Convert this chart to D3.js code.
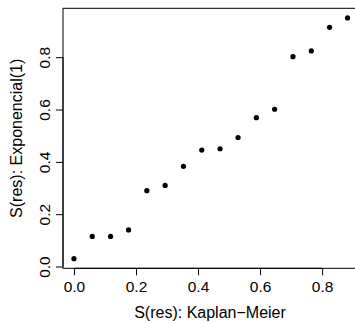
<!DOCTYPE html>
<html>
<head>
<meta charset="utf-8">
<script src="https://cdn.jsdelivr.net/npm/d3@7"></script>
<style>
  body { margin: 0; background: #fff; }
  svg text { font-family: "Liberation Sans", Arial, sans-serif; fill: #000; }
</style>
</head>
<body>
<div id="chart"></div>
<script>
// Kaplan-Meier survival vs Exponencial(1) survival of residuals
const kmSurv = [0, 0.059, 0.118, 0.176, 0.235, 0.294, 0.353, 0.412, 0.471, 0.529, 0.588, 0.647, 0.706, 0.765, 0.824, 0.882];
const expSurv = [0.03, 0.115, 0.115, 0.14, 0.29, 0.31, 0.383, 0.445, 0.45, 0.493, 0.569, 0.601, 0.802, 0.824, 0.914, 0.95];
const xTicks = [0, 0.2, 0.4, 0.6, 0.8];
const yTicks = [0, 0.2, 0.4, 0.6, 0.8];

const width = 355, height = 323;
const box = {left: 63, right: 358.5, top: 8.3, bottom: 268.3};
const tickFont = 15.5, titleFont = 16;

let svg = d3.select("#chart")
    .append("svg")
    .attr("width", width)
    .attr("height", height);

// R-style 4% padding on the data range
function padded(vals) {
    let lo = d3.min(vals), hi = d3.max(vals), d = (hi - lo) * 0.04;
    return [lo - d, hi + d];
}

let x = d3.scaleLinear()
    .domain(padded(kmSurv))
    .range([box.left, box.right]);

let y = d3.scaleLinear()
    .domain(padded(expSurv))
    .range([box.bottom, box.top]);

// bottom axis
let xAxis = svg.append("g")
    .attr("transform", `translate(0, ${box.bottom})`)
    .call(d3.axisBottom(x).tickValues(xTicks).tickSize(7).tickPadding(6)
        .tickFormat(d3.format(".1f")));
xAxis.select(".domain")
    .attr("d", `M${x(xTicks[0])},0H${x(xTicks[xTicks.length - 1])}`);
xAxis.selectAll("text").style("font-size", tickFont + "px");

// left axis, labels rotated like R
let yAxis = svg.append("g")
    .attr("transform", `translate(${box.left}, 0)`)
    .call(d3.axisLeft(y).tickValues(yTicks).tickSize(7).tickPadding(4)
        .tickFormat(d3.format(".1f")));
yAxis.select(".domain")
    .attr("d", `M0,${y(yTicks[0])}V${y(yTicks[yTicks.length - 1])}`);
yAxis.selectAll("text")
    .style("font-size", tickFont + "px")
    .attr("text-anchor", "middle")
    .attr("dy", null)
    .attr("x", 0)
    .attr("transform", "translate(-13, 0) rotate(-90)");

// plot frame
svg.append("rect")
    .attr("x", box.left)
    .attr("y", box.top)
    .attr("width", box.right - box.left)
    .attr("height", box.bottom - box.top)
    .attr("fill", "none")
    .attr("stroke", "#000")
    .attr("stroke-width", 1);

// points
svg.append("g")
    .selectAll("circle")
    .data(kmSurv)
    .enter()
    .append("circle")
    .attr("cx", function(d) { return x(d); })
    .attr("cy", function(d, i) { return y(expSurv[i]); })
    .attr("r", 2.6)
    .attr("fill", "#000");

// axis titles
svg.append("text")
    .attr("x", 210)
    .attr("y", 317.5)
    .style("text-anchor", "middle")
    .style("font-size", titleFont + "px")
    .text("S(res): Kaplan\u2212Meier");

svg.append("text")
    .attr("transform", `translate(22, ${(box.top + box.bottom) / 2}) rotate(-90)`)
    .style("text-anchor", "middle")
    .style("font-size", titleFont + "px")
    .text("S(res): Exponencial(1)");
</script>
</body>
</html>
